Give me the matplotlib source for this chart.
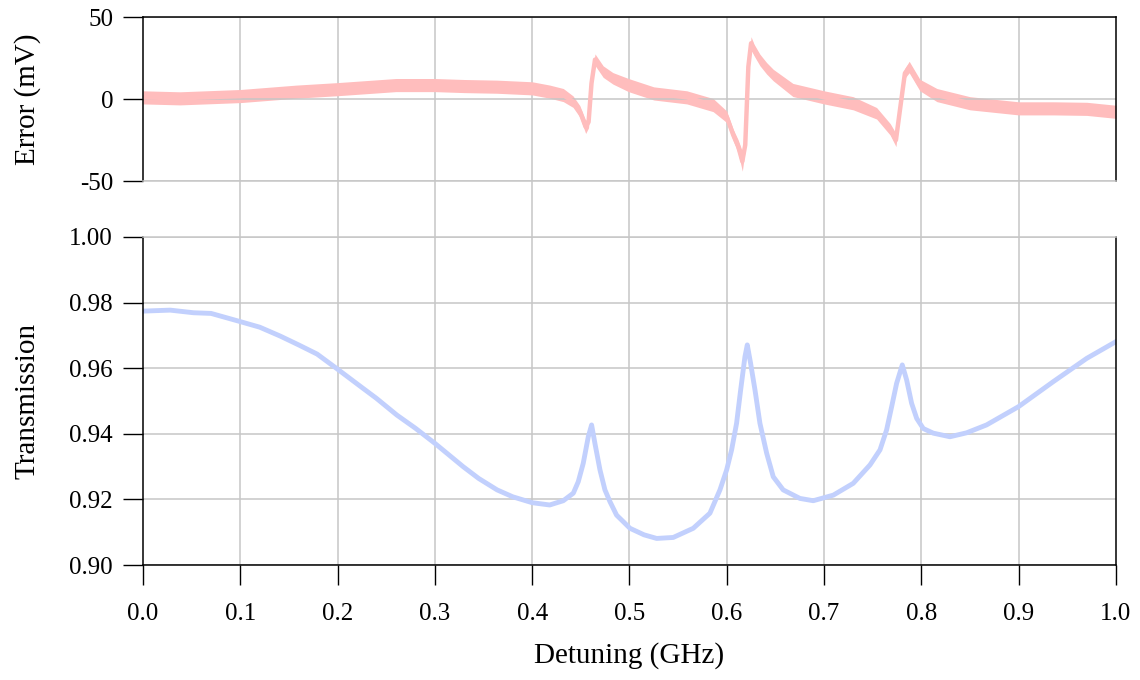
import matplotlib
matplotlib.use("Agg")
import matplotlib.pyplot as plt
import numpy as np

# --- data ------------------------------------------------------------------
# transmission trace (bottom panel)
trans_x = [0.000, 0.028, 0.052, 0.070, 0.100, 0.120, 0.141, 0.160, 0.179, 0.200,
           0.226, 0.240, 0.261, 0.280, 0.300, 0.329, 0.345, 0.364, 0.380, 0.400,
           0.418, 0.432, 0.4423, 0.4474, 0.4525, 0.4577, 0.4611, 0.4645, 0.4697, 0.4748,
           0.480, 0.4868, 0.4937, 0.5005, 0.515, 0.528, 0.545, 0.5656, 0.5827, 0.593,
           0.5999, 0.605, 0.6101, 0.6143, 0.6187, 0.6211, 0.6245, 0.629, 0.6341, 0.641,
           0.6478, 0.658, 0.6752, 0.6889, 0.7095, 0.730, 0.7472, 0.7575, 0.7643, 0.7695,
           0.7746, 0.7804, 0.7849, 0.790, 0.7952, 0.802, 0.8122, 0.8294, 0.8465, 0.867,
           0.900, 0.9356, 0.970, 1.000]
trans_y = [0.9774, 0.9777, 0.9769, 0.9767, 0.9742, 0.9725, 0.9698, 0.9671, 0.9643, 0.9597,
           0.9539, 0.9508, 0.9457, 0.9417, 0.9371, 0.9300, 0.9264, 0.9229, 0.9208, 0.9190,
           0.9183, 0.9196, 0.9219, 0.9254, 0.9310, 0.9391, 0.9427, 0.9371, 0.9290, 0.9229,
           0.9193, 0.9152, 0.9132, 0.9112, 0.9092, 0.9081, 0.9084, 0.9112, 0.9158, 0.9229,
           0.9290, 0.9351, 0.9432, 0.9534, 0.9635, 0.9671, 0.9615, 0.9534, 0.9432, 0.9341,
           0.9269, 0.9229, 0.9203, 0.9196, 0.9213, 0.9249, 0.9305, 0.9351, 0.9412, 0.9483,
           0.9554, 0.9610, 0.9564, 0.9493, 0.9447, 0.9416, 0.9402, 0.9391, 0.9403, 0.9427,
           0.9483, 0.9559, 0.9630, 0.9681]

# error signal (top panel): trace centre and half-width of its noise band, mV
err_x = [0.000, 0.038, 0.100, 0.158, 0.200, 0.260, 0.300, 0.330, 0.364, 0.400,
         0.418, 0.432, 0.442, 0.449, 0.455, 0.458, 0.461, 0.4646, 0.473, 0.483,
         0.499, 0.525, 0.559, 0.586, 0.5999, 0.6067, 0.6118, 0.6160, 0.6190, 0.6222,
         0.6250, 0.6280, 0.6341, 0.641, 0.6478, 0.668, 0.700, 0.730, 0.754, 0.768,
         0.7739, 0.778, 0.7831, 0.7875, 0.7985, 0.816, 0.850, 0.900, 0.936, 0.970,
         1.000]
err_mid = [1.0, 0.4, 1.8, 4.5, 6.0, 8.5, 8.5, 7.9, 7.5, 6.5,
           4.5, 2.4, -1.6, -7.5, -17.0, -14.0, 9.6, 24.0, 16.7, 12.6,
           8.5, 3.4, 1.0, -3.7, -10.8, -22.0, -29.0, -38.0, -28.0, 19.7,
           34.0, 30.0, 23.8, 18.7, 14.6, 5.5, 1.0, -2.6, -8.7, -18.5,
           -25.0, -6.7, 15.7, 19.5, 8.5, 2.4, -2.6, -5.7, -5.7, -6.0,
           -7.8]
err_spread = [4, 4, 4, 4, 4, 4, 4, 4, 4, 4,
              4, 4, 3.5, 3.5, 4, 3.5, 2, 3.5, 3.5, 3.5,
              4, 4, 4, 4, 3.5, 3.5, 4, 6, 3, 2,
              4, 3.5, 3.5, 3.5, 3.5, 4, 4, 4, 3.5, 3.5,
              4, 2, 3, 3.5, 3.5, 4, 4, 4, 4, 4,
              4]

xticks = [0.0, 0.1, 0.2, 0.3, 0.4, 0.5, 0.6, 0.7, 0.8, 0.9, 1.0]
err_ticks = [-50, 0, 50]
trans_ticks = [0.90, 0.92, 0.94, 0.96, 0.98, 1.00]

PINK = "#ffbdbd"
BLUE = "#c2d0fd"
GRID = "#c6c6c6"

plt.rcParams["font.family"] = ["Liberation Serif", "DejaVu Serif"]
plt.rcParams["axes.unicode_minus"] = False

fig = plt.figure(figsize=(11.4, 6.8), dpi=100)
left, width = 0.1254, 0.8535

# background axes: the vertical grid runs through both panels and the gap
bg = fig.add_axes([left, 0.1691, width, 0.8059], zorder=0)
bg.set_xlim(0, 1)
bg.set_ylim(0, 1)
for s in bg.spines.values():
    s.set_visible(False)
bg.set_xticks([t for t in xticks if 0 < t < 1])
bg.set_yticks([])
bg.tick_params(length=0, labelbottom=False)
bg.grid(axis="x", color=GRID, lw=1.1)

tick_kw = dict(direction="out", length=14.5, width=1.0, colors="black",
               labelsize=18, pad=7)

# top panel -- error signal
ax1 = fig.add_axes([left, 0.7338, width, 0.2412], zorder=1)
ax1.patch.set_alpha(0)
lo = np.array(err_mid) - np.array(err_spread)
hi = np.array(err_mid) + np.array(err_spread)
ax1.fill_between(err_x, lo, hi, color=PINK, lw=0)
ax1.plot(err_x, err_mid, color=PINK, lw=3.2)
ax1.set_xlim(0, 1)
ax1.set_ylim(-50, 50)
ax1.set_yticks(err_ticks)
ax1.set_xticks([])
ax1.tick_params(axis="y", **tick_kw)
ax1.grid(axis="y", color=GRID, lw=1.1)
for k in ("left", "top", "right"):
    ax1.spines[k].set_linewidth(1.1)
ax1.spines["bottom"].set_color(GRID)
ax1.spines["bottom"].set_linewidth(1.1)
ax1.set_ylabel("Error (mV)", fontsize=21)
ax1.yaxis.set_label_coords(-0.105, 0.5)

# bottom panel -- transmission
ax2 = fig.add_axes([left, 0.1691, width, 0.4824], zorder=1)
ax2.patch.set_alpha(0)
ax2.plot(trans_x, trans_y, color=BLUE, lw=3.5)
ax2.set_xlim(0, 1)
ax2.set_ylim(0.90, 1.00)
ax2.set_yticks(trans_ticks)
ax2.set_yticklabels([f"{t:.2f}" for t in trans_ticks])
ax2.set_xticks(xticks)
ax2.set_xticklabels([f"{t:.1f}" for t in xticks])
ax2.tick_params(axis="y", **tick_kw)
ax2.tick_params(axis="x", **dict(tick_kw, pad=13))
ax2.grid(axis="y", color=GRID, lw=1.1)
for k in ("left", "bottom", "right"):
    ax2.spines[k].set_linewidth(1.1)
ax2.spines["top"].set_color(GRID)
ax2.spines["top"].set_linewidth(1.1)
ax2.set_ylabel("Transmission", fontsize=21)
ax2.yaxis.set_label_coords(-0.105, 0.5)
ax2.set_xlabel("Detuning (GHz)", fontsize=21)
ax2.xaxis.set_label_coords(0.5, -0.235)

fig.savefig("out.png", dpi=100, facecolor="white")
